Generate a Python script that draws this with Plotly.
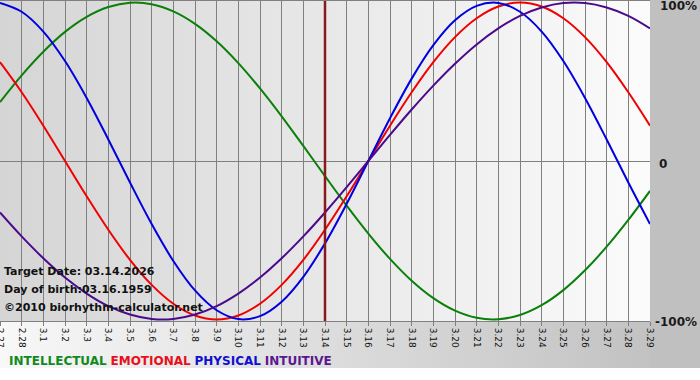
import base64
import plotly.graph_objects as go

# ---- data ----
dates = ["2.27", "2.28", "3.1", "3.2", "3.3", "3.4", "3.5", "3.6", "3.7", "3.8",
         "3.9", "3.10", "3.11", "3.12", "3.13", "3.14", "3.15", "3.16", "3.17",
         "3.18", "3.19", "3.20", "3.21", "3.22", "3.23", "3.24", "3.25", "3.26",
         "3.27", "3.28", "3.29"]

intellectual = [0.372, 0.541, 0.690, 0.815, 0.910, 0.972, 0.999, 0.990, 0.945, 0.866,
                0.756, 0.618, 0.458, 0.282, 0.095, -0.095, -0.282, -0.458, -0.618,
                -0.756, -0.866, -0.945, -0.990, -0.999, -0.972, -0.910, -0.815,
                -0.690, -0.541, -0.372, -0.189]

emotional = [0.624, 0.434, 0.223, 0.0, -0.223, -0.434, -0.624, -0.782, -0.901, -0.975,
             -1.0, -0.975, -0.901, -0.782, -0.624, -0.434, -0.223, 0.0, 0.223, 0.434,
             0.624, 0.782, 0.901, 0.975, 1.0, 0.975, 0.901, 0.782, 0.624, 0.434, 0.223]

physical = [0.998, 0.942, 0.817, 0.631, 0.398, 0.136, -0.136, -0.398, -0.631, -0.817,
            -0.942, -0.998, -0.979, -0.888, -0.731, -0.520, -0.270, 0.0, 0.270, 0.520,
            0.731, 0.888, 0.979, 0.998, 0.942, 0.817, 0.631, 0.398, 0.136, -0.136, -0.398]

intuitive = [-0.325, -0.476, -0.614, -0.736, -0.837, -0.916, -0.969, -0.997, -0.997,
             -0.969, -0.916, -0.837, -0.736, -0.614, -0.476, -0.325, -0.165, 0.0, 0.165,
             0.325, 0.476, 0.614, 0.736, 0.837, 0.916, 0.969, 0.997, 0.997, 0.969,
             0.916, 0.837]

target_date = "3.14"
series_names = ["INTELLECTUAL", "EMOTIONAL", "PHYSICAL", "INTUITIVE"]
line_colors = ["#0a800a", "#f00000", "#0000e0", "#4b0a8c"]
legend_colors = ["#108a20", "#e8101a", "#1010d0", "#5a1890"]
y_labels = ["100%", "0", "-100%"]
y_label_vals = [1, 0, -1]
info_lines = ["Target Date: 03.14.2026", "Day of birth:03.16.1959",
              "\u00a92010 biorhythm-calculator.net"]

W, H = 700, 380
PLOT_L, PLOT_R, PLOT_T, PLOT_B = 0, 650, 1, 321

# background gradients (style only)
svg = f"""<svg xmlns='http://www.w3.org/2000/svg' width='{W}' height='{H}' preserveAspectRatio='none'>
<defs>
<linearGradient id='a' x1='0' x2='1' y1='0' y2='0'>
<stop offset='0' stop-color='#f8f8f8'/><stop offset='1' stop-color='#bebebe'/></linearGradient>
<linearGradient id='b' x1='0' x2='1' y1='0' y2='0'>
<stop offset='0' stop-color='#d5d5d5'/><stop offset='1' stop-color='#fbfbfb'/></linearGradient>
</defs>
<rect width='{W}' height='{H}' fill='#ffffff'/>
<rect width='{W}' height='368' fill='url(#a)'/>
<rect x='650' y='0' width='50' height='368' fill='#c0c0c0'/>
<rect x='{PLOT_L}' y='{PLOT_T}' width='{PLOT_R-PLOT_L}' height='{PLOT_B-PLOT_T}' fill='url(#b)'/>
</svg>"""
svg_uri = "data:image/svg+xml;base64," + base64.b64encode(svg.encode()).decode()

fig = go.Figure()
for name, vals, col in zip(series_names, [intellectual, emotional, physical, intuitive], line_colors):
    fig.add_trace(go.Scatter(x=dates, y=vals, mode="lines", name=name,
                             line=dict(color=col, width=2, shape="spline", smoothing=1.0),
                             hoverinfo="skip"))

target_idx = dates.index(target_date)
fig.add_shape(type="line", xref="x", yref="paper", x0=target_idx, x1=target_idx,
              y0=1 - PLOT_B / H, y1=1 - PLOT_T / H, line=dict(color="#8a1a1a", width=2.5),
              layer="above")

label_x = {"100%": 658, "0": 657, "-100%": 653}
annotations = []
for lab, v in zip(y_labels, y_label_vals):
    annotations.append(dict(xref="paper", yref="y", x=label_x[lab] / W, y=v,
                            text=f"<b>{lab}</b>", showarrow=False, xanchor="left",
                            yanchor="middle", yshift=-3,
                            font=dict(family="DejaVu Sans", size=12, color="#1a1a1a")))
for i, t in enumerate(info_lines):
    annotations.append(dict(xref="paper", yref="paper", x=2 / W, y=1 - (271 + 18 * i) / H,
                            text=f"<b>{t}</b>", showarrow=False, xanchor="left",
                            yanchor="middle",
                            font=dict(family="DejaVu Sans", size=11, color="#111111")))
legend_html = "&nbsp;".join(
    f"<span style='color:{c}'><b>{n}</b></span>" for n, c in zip(series_names, legend_colors))
annotations.append(dict(xref="paper", yref="paper", x=7 / W, y=1 - 361 / H,
                        text=legend_html, showarrow=False, xanchor="left", yanchor="middle",
                        font=dict(family="DejaVu Sans", size=12)))

fig.update_layout(
    width=W, height=H,
    margin=dict(l=0, r=0, t=0, b=0, pad=0, autoexpand=False),
    paper_bgcolor="#ffffff",
    plot_bgcolor="rgba(0,0,0,0)",
    showlegend=False,
    images=[dict(source=svg_uri, xref="paper", yref="paper", x=0, y=1, sizex=1, sizey=1,
                 xanchor="left", yanchor="top", sizing="stretch", layer="below")],
    xaxis=dict(domain=[PLOT_L / W, PLOT_R / W], type="category", categoryorder="array",
               categoryarray=dates, range=[0, len(dates) - 1], automargin=False,
               showgrid=True, gridcolor="#808080", gridwidth=1,
               ticks="outside", ticklen=4, tickcolor="#808080", tickangle=90,
               tickfont=dict(family="DejaVu Sans", size=9, color="#111111"),
               showline=True, linecolor="#808080", linewidth=1, mirror=True,
               zeroline=False, fixedrange=True),
    yaxis=dict(domain=[1 - PLOT_B / H, 1 - PLOT_T / H], range=[-1.01, 1.01],
               automargin=False,
               showticklabels=False, showgrid=False, ticks="",
               zeroline=True, zerolinecolor="#808080", zerolinewidth=1,
               showline=False, fixedrange=True),
    annotations=annotations,
)

fig.write_html("out.html", config={"displayModeBar": False},
               post_script="document.body.style.margin='0';document.body.style.padding='0';")
